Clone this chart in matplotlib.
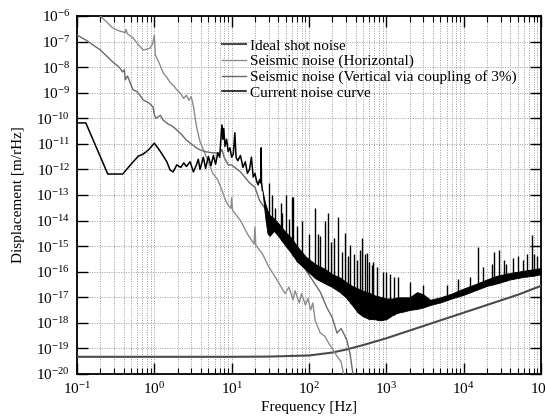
import numpy as np
import matplotlib
matplotlib.use('Agg')
import matplotlib.pyplot as plt
from matplotlib.ticker import LogLocator, NullLocator, LogFormatterMathtext

plt.rcParams['font.family'] = 'serif'
plt.rcParams['font.serif'] = ['Liberation Serif', 'DejaVu Serif']
plt.rcParams['mathtext.fontset'] = 'custom'
plt.rcParams['mathtext.rm'] = 'Liberation Serif'
plt.rcParams['axes.unicode_minus'] = False

# ---------------- data ----------------
labels = ["Ideal shot noise",
          "Seismic noise (Horizontal)",
          "Seismic noise (Vertical via coupling of 3%)",
          "Current noise curve"]

shot_f = [0.1, 1, 10, 30, 100, 200, 300, 500, 1000, 2000, 5000, 1e4, 2e4, 5e4, 1e5]
shot_v = [4.7e-20, 4.7e-20, 4.7e-20, 4.8e-20, 5.3e-20, 6.9e-20, 9e-20, 1.35e-19,
          2.5e-19, 5e-19, 1.25e-18, 2.5e-18, 5e-18, 1.25e-17, 2.8e-17]

hor_f = [0.17, 0.2, 0.24, 0.29, 0.35, 0.39, 0.42, 0.43, 0.45, 0.53, 0.62, 0.72, 0.8,
         0.88, 0.95, 1.0, 1.03, 1.15, 1.3, 1.45, 1.6, 1.8, 1.95, 2.2, 2.4, 2.6, 2.8,
         3.0, 3.2, 3.5, 3.9, 4.3, 5.0, 5.7, 6.6, 7.5, 8.2, 9.0, 9.8, 10.0, 10.3, 13,
         16, 19.5, 20, 20.5, 25, 30, 40, 49, 55, 62, 66, 75, 80, 90, 97, 105, 112,
         120, 140, 160, 180, 200, 230, 260, 280, 300]
hor_v = [1.6e-6, 1e-6, 6e-7, 3.4e-7, 2.6e-7, 2.4e-7, 2.2e-7, 3e-7, 2e-7, 1.4e-7,
         7.5e-8, 4.7e-8, 5e-8, 5.6e-8, 8e-8, 1.8e-7, 3e-8, 1.5e-8, 6e-9, 4e-9, 2.5e-9,
         1.8e-9, 1.3e-9, 9e-10, 6e-10, 8e-10, 5e-10, 7e-10, 3e-10, 5e-11, 1.2e-11,
         6e-12, 2e-12, 7e-13, 4e-13, 1.5e-13, 7e-14, 4e-14, 3e-14, 8e-14, 2.5e-14,
         1e-14, 3e-15, 1.2e-15, 5.6e-15, 1.1e-15, 5e-16, 1.6e-16, 4e-17, 1.4e-17,
         2.5e-17, 8e-18, 1.8e-17, 6e-18, 1.4e-17, 5e-18, 9e-18, 3.2e-18, 6e-18,
         1.25e-18, 4e-19, 3e-19, 1.6e-19, 1e-19, 5e-20, 3e-20, 1e-20, 5e-21]

ver_f = [0.1, 0.13, 0.2, 0.29, 0.35, 0.39, 0.41, 0.42, 0.45, 0.53, 0.6, 0.72, 0.85,
         0.96, 1.0, 1.05, 1.2, 1.3, 1.5, 1.7, 1.95, 2.2, 2.6, 3.0, 3.5, 3.9, 4.5, 5.5,
         6.5, 7.0, 7.5, 8.0, 9.0, 10, 13, 17, 20, 23, 30, 40, 50, 70, 105, 140, 170,
         200, 230, 260, 290, 310, 340, 370]
ver_v = [1.8e-7, 1.15e-7, 4.7e-8, 1.6e-8, 1e-8, 6.5e-9, 8e-9, 3.2e-9, 4.5e-9, 1.3e-9,
         1.1e-9, 5.2e-10, 4e-10, 2.8e-10, 1.35e-10, 1e-10, 1.3e-10, 8.5e-11, 6e-11,
         5e-11, 3.5e-11, 2.5e-11, 1.4e-11, 1e-11, 7e-12, 5.8e-12, 5e-12, 4.5e-12,
         4.4e-12, 4.2e-12, 6e-12, 3e-12, 1.5e-12, 1.5e-12, 8e-13, 3e-13, 2e-13, 6e-14,
         1.9e-14, 5e-15, 1.9e-15, 4e-16, 6e-17, 1.6e-17, 4e-18, 1.6e-18, 4e-19,
         6e-19, 3.2e-19, 2e-19, 6e-20, 1e-20]

cur_f = [0.1, 0.13, 0.25, 0.39, 0.5, 0.62, 0.72, 0.85, 1.0, 1.2, 1.45, 1.6, 1.75,
         1.95, 2.2, 2.4, 2.6, 2.9, 3.2, 3.5, 3.7, 3.9, 4.3, 4.6, 5.0, 5.4, 5.8, 6.2,
         6.6, 7.0, 7.3, 7.5, 7.7, 7.9, 8.2, 8.6, 9.0, 9.5, 10.0, 10.5, 11.0, 11.4,
         12, 13, 14, 15, 16, 17, 18, 19, 20, 21, 22, 23, 23.7, 24, 24.3, 25]
cur_v = [6.6e-11, 6.6e-11, 6.6e-13, 6.6e-13, 1.6e-12, 3.3e-12, 4e-12, 6e-12,
         1.07e-11, 5e-12, 2e-12, 9.5e-13, 8e-13, 1.5e-12, 1.2e-12, 1.8e-12, 1.3e-12,
         2e-12, 8e-13, 1.5e-12, 2.5e-12, 1e-12, 3e-12, 1.1e-12, 3.2e-12, 1.4e-12,
         3.5e-12, 1.6e-12, 4.5e-12, 3e-12, 2e-11, 5.5e-11, 1.5e-11, 4e-11, 8e-12,
         1.5e-11, 5e-12, 7e-12, 3e-12, 4e-12, 2.7e-11, 3e-12, 2.2e-12, 3.5e-12,
         1.2e-12, 2e-12, 7e-13, 1e-12, 3e-12, 5e-13, 7e-13, 3.5e-13, 2.5e-13, 4e-13,
         3e-13, 7e-12, 3e-13, 1.5e-13]

band_f = [25, 27, 29, 31, 35, 40, 50, 60, 70, 90, 120, 160, 200, 250, 300, 360, 430,
          500, 600, 700, 830, 1000, 1200, 1400, 1700, 2000, 2500, 3000, 3700, 5000,
          7000, 10000, 15000, 20000, 27000, 40000, 60000, 80000, 100000]
band_lo = [1.5e-13, 1.5e-14, 3.2e-15, 2.5e-15, 4e-15, 2.5e-15, 1e-15, 5e-16, 2.5e-16,
           1.25e-16, 5.6e-17, 3.5e-17, 2.5e-17, 1.6e-17, 1e-17, 5e-18, 2.5e-18, 1.8e-18,
           1.4e-18, 1.4e-18, 1.25e-18, 1.4e-18, 2e-18, 2.5e-18, 2.8e-18, 3.2e-18,
           3.5e-18, 4e-18, 5e-18, 6.3e-18, 9e-18, 1.25e-17, 2e-17, 2.8e-17, 3.5e-17,
           5e-17, 6.3e-17, 7e-17, 8e-17]
band_hi = [1.5e-13, 5e-14, 2.5e-14, 1.6e-14, 1.25e-14, 8e-15, 3.5e-15, 2e-15, 1e-15,
           4e-16, 2e-16, 1.3e-16, 8e-17, 6e-17, 4e-17, 2.8e-17, 2.2e-17, 1.8e-17,
           1.5e-17, 1.2e-17, 1.05e-17, 9e-18, 9e-18, 1e-17, 1e-17, 1e-17, 1.6e-17,
           1.3e-17, 8e-18, 1e-17, 1.4e-17, 2.2e-17, 3.5e-17, 5e-17, 7e-17, 9e-17,
           1.1e-16, 1.25e-16, 1.4e-16]

spike_f = [30, 33, 36, 43, 45, 50, 55, 61, 63, 70, 80, 100, 120, 130, 140, 160, 175,
           190, 210, 240, 270, 290, 320, 340, 380, 420, 460, 490, 530, 560, 600, 650,
           680, 750, 900, 1000, 1100, 1250, 1400, 2000, 3000, 6000, 8500, 12000, 15500,
           18000, 23000, 25000, 29000, 33000, 35000, 44000, 50000, 58000, 65000, 77000,
           82000, 90000]
spike_v = [3e-13, 1e-13, 3e-14, 5e-14, 2e-14, 1e-13, 1.2e-14, 8e-14, 8e-14, 6e-15,
           1e-14, 3e-15, 3.2e-14, 3e-15, 2.5e-15, 1e-14, 2e-14, 1.5e-15, 2e-15, 1.4e-14,
           6e-16, 3.2e-15, 4e-16, 1.1e-15, 5e-16, 3e-16, 7e-16, 2e-15, 5e-16, 5.4e-16,
           2.5e-16, 1.8e-16, 2.5e-16, 1.5e-16, 1e-16, 1e-16, 8e-17, 6e-17, 6e-17,
           4e-17, 3e-17, 3e-17, 5e-17, 6e-17, 9e-16, 1.5e-16, 2e-16, 6e-16, 7e-16,
           3e-16, 2e-16, 3.5e-16, 4e-16, 3e-16, 5e-16, 2.7e-15, 5e-16, 4e-16]

# ---------------- figure ----------------
W, H = 545, 419
fig = plt.figure(figsize=(W / 100, H / 100), dpi=100)
L, R, T, B = 77, 541, 16, 374
ax = fig.add_axes([L / W, 1 - B / H, (R - L) / W, (B - T) / H])

c_shot, c_hor, c_ver, c_cur = '#4a4a4a', '#8c8c8c', '#6a6a6a', '#000000'

l_shot, = ax.plot(shot_f, shot_v, color=c_shot, lw=1.5, label=labels[0], zorder=3)
l_hor, = ax.plot(hor_f, hor_v, color=c_hor, lw=1.0, label=labels[1], zorder=3)
l_ver, = ax.plot(ver_f, ver_v, color=c_ver, lw=1.0, label=labels[2], zorder=3)
l_cur, = ax.plot(cur_f, cur_v, color=c_cur, lw=1.1, label=labels[3], zorder=4)

ax.fill_between(band_f, band_lo, band_hi, color=c_cur, lw=0.6, edgecolor=c_cur, zorder=4)
base = 10 ** np.interp(np.log10(spike_f), np.log10(band_f), np.log10(band_lo))
ax.vlines(spike_f, base, spike_v, color=c_cur, lw=1.0, zorder=4)

ax.set_xscale('log')
ax.set_yscale('log')
ax.set_xlim(0.1, 1e5)
ax.set_ylim(1e-20, 1e-6)

ax.xaxis.set_major_locator(LogLocator(base=10, numticks=20))
ax.xaxis.set_minor_locator(LogLocator(base=10, subs=np.arange(2, 10), numticks=100))
ax.yaxis.set_major_locator(LogLocator(base=10, numticks=30))
ax.yaxis.set_minor_locator(NullLocator())
ax.xaxis.set_major_formatter(LogFormatterMathtext())
ax.yaxis.set_major_formatter(LogFormatterMathtext())

ax.tick_params(which='both', direction='in', top=True, right=True, colors='black')
ax.tick_params(which='major', length=8, width=1.0, labelsize=11, pad=5)
ax.tick_params(which='minor', length=4, width=0.8)

ax.grid(True, which='major', axis='both', color='#9a9a9a', lw=0.7, ls=(0, (1, 1.5)))
ax.grid(True, which='minor', axis='x', color='#9a9a9a', lw=0.7, ls=(0, (1, 1.5)))
ax.set_axisbelow(True)
for s in ax.spines.values():
    s.set_linewidth(1.3)

ax.set_xlabel('Frequency [Hz]', fontsize=11, labelpad=3)
ax.set_ylabel('Displacement [m/rHz]', fontsize=11, labelpad=8)

leg = ax.legend(handles=[l_shot, l_hor, l_ver, l_cur], loc='upper left',
                bbox_to_anchor=(222 / W, 1 - 39 / H), bbox_transform=fig.transFigure,
                frameon=False, fontsize=11, handlelength=1.6, handletextpad=0.25,
                labelspacing=0.12, borderpad=0, borderaxespad=0)

fig.savefig('out.png', dpi=100)
